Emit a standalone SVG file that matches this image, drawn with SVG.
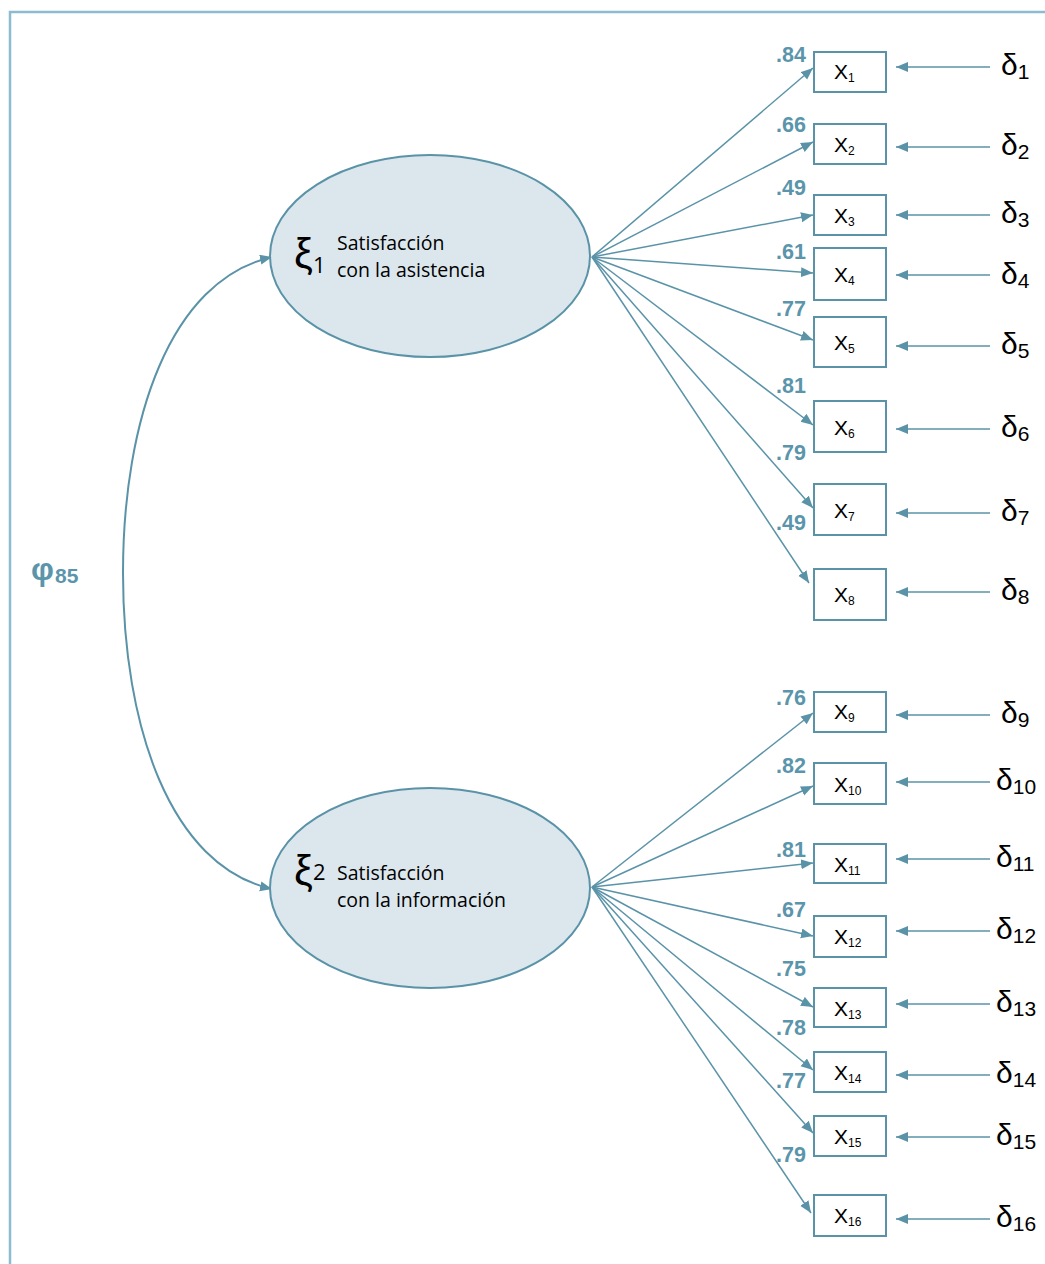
<svg xmlns="http://www.w3.org/2000/svg" width="1045" height="1264" viewBox="0 0 1045 1264">
<defs>
<marker id="ah" markerUnits="userSpaceOnUse" markerWidth="13" markerHeight="11" refX="12" refY="5" orient="auto-start-reverse" viewBox="0 0 13 11">
<path d="M0,0 L12,5 L0,10 z" fill="#5a93a8"/>
</marker>
<style>
.frame{fill:none;stroke:#8dbccf;stroke-width:2.5}
.lat{fill:#dce7ed;stroke:#5a93a8;stroke-width:2}
.box{fill:#fff;stroke:#5a93a8;stroke-width:2}
.con{fill:none;stroke:#5a93a8;stroke-width:1.5;marker-end:url(#ah)}
.cur{fill:none;stroke:#5a93a8;stroke-width:2;marker-end:url(#ah);marker-start:url(#ah)}
.ld{font-family:"Liberation Sans",Arial,sans-serif;font-weight:bold;font-size:21.5px;fill:#5b95ab;text-anchor:end}
.xl{font-family:"Liberation Sans",Arial,sans-serif;font-size:21px;fill:#000}
.xs{font-size:12px}
.dl{font-family:"Liberation Sans",Arial,sans-serif;font-size:30px;fill:#000}
.ds{font-size:21px}
.lt{font-family:"Open Sans",sans-serif;font-size:19.5px;fill:#000}
.xi{font-family:"Liberation Sans",Arial,sans-serif;font-size:42px;fill:#000}
.xis{font-family:"Open Sans",sans-serif;font-size:22px;fill:#000}
</style>
</defs>
<path class="frame" d="M10,1264 L10,12 L1045,12"/>

<g id="connectors">
<path class="cur" d="M272,257 C170,280 123,420 123,573 C123,726 170,866 272,889"/>
<line class="con" x1="592" y1="257" x2="813" y2="68"/>
<line class="con" x1="592" y1="257" x2="813" y2="142"/>
<line class="con" x1="592" y1="257" x2="813" y2="215"/>
<line class="con" x1="592" y1="257" x2="813" y2="273"/>
<line class="con" x1="592" y1="257" x2="813" y2="340"/>
<line class="con" x1="592" y1="257" x2="813" y2="425"/>
<line class="con" x1="592" y1="257" x2="813" y2="508"/>
<line class="con" x1="592" y1="257" x2="809" y2="583"/>
<line class="con" x1="592" y1="887" x2="813" y2="713"/>
<line class="con" x1="592" y1="887" x2="813" y2="786"/>
<line class="con" x1="592" y1="887" x2="813" y2="863"/>
<line class="con" x1="592" y1="887" x2="813" y2="936"/>
<line class="con" x1="592" y1="887" x2="813" y2="1007"/>
<line class="con" x1="592" y1="887" x2="813" y2="1070"/>
<line class="con" x1="592" y1="887" x2="813" y2="1133"/>
<line class="con" x1="592" y1="887" x2="811" y2="1213"/>
<line class="con" x1="990" y1="67" x2="896" y2="67"/>
<line class="con" x1="990" y1="147" x2="896" y2="147"/>
<line class="con" x1="990" y1="215" x2="896" y2="215"/>
<line class="con" x1="990" y1="275" x2="896" y2="275"/>
<line class="con" x1="990" y1="346" x2="896" y2="346"/>
<line class="con" x1="990" y1="429" x2="896" y2="429"/>
<line class="con" x1="990" y1="513" x2="896" y2="513"/>
<line class="con" x1="990" y1="592" x2="896" y2="592"/>
<line class="con" x1="990" y1="715" x2="896" y2="715"/>
<line class="con" x1="990" y1="782" x2="896" y2="782"/>
<line class="con" x1="990" y1="859" x2="896" y2="859"/>
<line class="con" x1="990" y1="931" x2="896" y2="931"/>
<line class="con" x1="990" y1="1004" x2="896" y2="1004"/>
<line class="con" x1="990" y1="1075" x2="896" y2="1075"/>
<line class="con" x1="990" y1="1137" x2="896" y2="1137"/>
<line class="con" x1="990" y1="1219" x2="896" y2="1219"/>
</g>

<g id="labels">
<text class="ld" x="806" y="62">.84</text>
<text class="ld" x="806" y="132">.66</text>
<text class="ld" x="806" y="195">.49</text>
<text class="ld" x="806" y="259">.61</text>
<text class="ld" x="806" y="316">.77</text>
<text class="ld" x="806" y="393">.81</text>
<text class="ld" x="806" y="460">.79</text>
<text class="ld" x="806" y="530">.49</text>
<text class="ld" x="806" y="705">.76</text>
<text class="ld" x="806" y="773">.82</text>
<text class="ld" x="806" y="857">.81</text>
<text class="ld" x="806" y="917">.67</text>
<text class="ld" x="806" y="976">.75</text>
<text class="ld" x="806" y="1035">.78</text>
<text class="ld" x="806" y="1088">.77</text>
<text class="ld" x="806" y="1162">.79</text>
</g>

<g id="phi">
<text x="31" y="580" style="font-family:'Liberation Sans',Arial,sans-serif;font-weight:bold;font-size:32px;fill:#5b95ab">φ<tspan x="55" y="583" style="font-size:21px">85</tspan></text>
</g>

<g id="xi1">
<ellipse class="lat" cx="430" cy="256" rx="160" ry="101"/>
<text class="xi" x="294" y="268">ξ</text>
<text class="xis" x="313" y="273">1</text>
<text class="lt" x="337" y="250">Satisfacción</text>
<text class="lt" x="337" y="277">con la asistencia</text>
</g>

<g id="xi2">
<ellipse class="lat" cx="430" cy="888" rx="160" ry="100"/>
<text class="xi" x="294" y="885">ξ</text>
<text class="xis" x="313" y="880">2</text>
<text class="lt" x="337" y="880">Satisfacción</text>
<text class="lt" x="337" y="907">con la información</text>
</g>

<g id="x1"><rect class="box" x="814" y="52" width="72" height="40"/><text class="xl" x="834" y="79">X<tspan class="xs" dy="3">1</tspan></text></g>
<g id="x2"><rect class="box" x="814" y="124" width="72" height="40"/><text class="xl" x="834" y="152">X<tspan class="xs" dy="3">2</tspan></text></g>
<g id="x3"><rect class="box" x="814" y="195" width="72" height="40"/><text class="xl" x="834" y="223">X<tspan class="xs" dy="3">3</tspan></text></g>
<g id="x4"><rect class="box" x="814" y="248" width="72" height="52"/><text class="xl" x="834" y="282">X<tspan class="xs" dy="3">4</tspan></text></g>
<g id="x5"><rect class="box" x="814" y="317" width="72" height="50"/><text class="xl" x="834" y="350">X<tspan class="xs" dy="3">5</tspan></text></g>
<g id="x6"><rect class="box" x="814" y="401" width="72" height="51"/><text class="xl" x="834" y="435">X<tspan class="xs" dy="3">6</tspan></text></g>
<g id="x7"><rect class="box" x="814" y="484" width="72" height="51"/><text class="xl" x="834" y="518">X<tspan class="xs" dy="3">7</tspan></text></g>
<g id="x8"><rect class="box" x="814" y="569" width="72" height="51"/><text class="xl" x="834" y="602">X<tspan class="xs" dy="3">8</tspan></text></g>
<g id="x9"><rect class="box" x="814" y="692" width="72" height="40"/><text class="xl" x="834" y="719">X<tspan class="xs" dy="3">9</tspan></text></g>
<g id="x10"><rect class="box" x="814" y="763" width="72" height="41"/><text class="xl" x="834" y="792">X<tspan class="xs" dy="3">10</tspan></text></g>
<g id="x11"><rect class="box" x="814" y="844" width="72" height="39"/><text class="xl" x="834" y="872">X<tspan class="xs" dy="3">11</tspan></text></g>
<g id="x12"><rect class="box" x="814" y="916" width="72" height="41"/><text class="xl" x="834" y="944">X<tspan class="xs" dy="3">12</tspan></text></g>
<g id="x13"><rect class="box" x="814" y="988" width="72" height="39"/><text class="xl" x="834" y="1016">X<tspan class="xs" dy="3">13</tspan></text></g>
<g id="x14"><rect class="box" x="814" y="1052" width="72" height="40"/><text class="xl" x="834" y="1080">X<tspan class="xs" dy="3">14</tspan></text></g>
<g id="x15"><rect class="box" x="814" y="1116" width="72" height="40"/><text class="xl" x="834" y="1144">X<tspan class="xs" dy="3">15</tspan></text></g>
<g id="x16"><rect class="box" x="814" y="1195" width="72" height="41"/><text class="xl" x="834" y="1223">X<tspan class="xs" dy="3">16</tspan></text></g>

<g id="d1"><text class="dl" x="1001" y="75">δ<tspan class="ds" dy="4">1</tspan></text></g>
<g id="d2"><text class="dl" x="1001" y="155">δ<tspan class="ds" dy="4">2</tspan></text></g>
<g id="d3"><text class="dl" x="1001" y="223">δ<tspan class="ds" dy="4">3</tspan></text></g>
<g id="d4"><text class="dl" x="1001" y="284">δ<tspan class="ds" dy="4">4</tspan></text></g>
<g id="d5"><text class="dl" x="1001" y="354">δ<tspan class="ds" dy="4">5</tspan></text></g>
<g id="d6"><text class="dl" x="1001" y="437">δ<tspan class="ds" dy="4">6</tspan></text></g>
<g id="d7"><text class="dl" x="1001" y="521">δ<tspan class="ds" dy="4">7</tspan></text></g>
<g id="d8"><text class="dl" x="1001" y="600">δ<tspan class="ds" dy="4">8</tspan></text></g>
<g id="d9"><text class="dl" x="1001" y="723">δ<tspan class="ds" dy="4">9</tspan></text></g>
<g id="d10"><text class="dl" x="996" y="790">δ<tspan class="ds" dy="4">10</tspan></text></g>
<g id="d11"><text class="dl" x="996" y="867">δ<tspan class="ds" dy="4">11</tspan></text></g>
<g id="d12"><text class="dl" x="996" y="939">δ<tspan class="ds" dy="4">12</tspan></text></g>
<g id="d13"><text class="dl" x="996" y="1012">δ<tspan class="ds" dy="4">13</tspan></text></g>
<g id="d14"><text class="dl" x="996" y="1083">δ<tspan class="ds" dy="4">14</tspan></text></g>
<g id="d15"><text class="dl" x="996" y="1145">δ<tspan class="ds" dy="4">15</tspan></text></g>
<g id="d16"><text class="dl" x="996" y="1227">δ<tspan class="ds" dy="4">16</tspan></text></g>
</svg>
